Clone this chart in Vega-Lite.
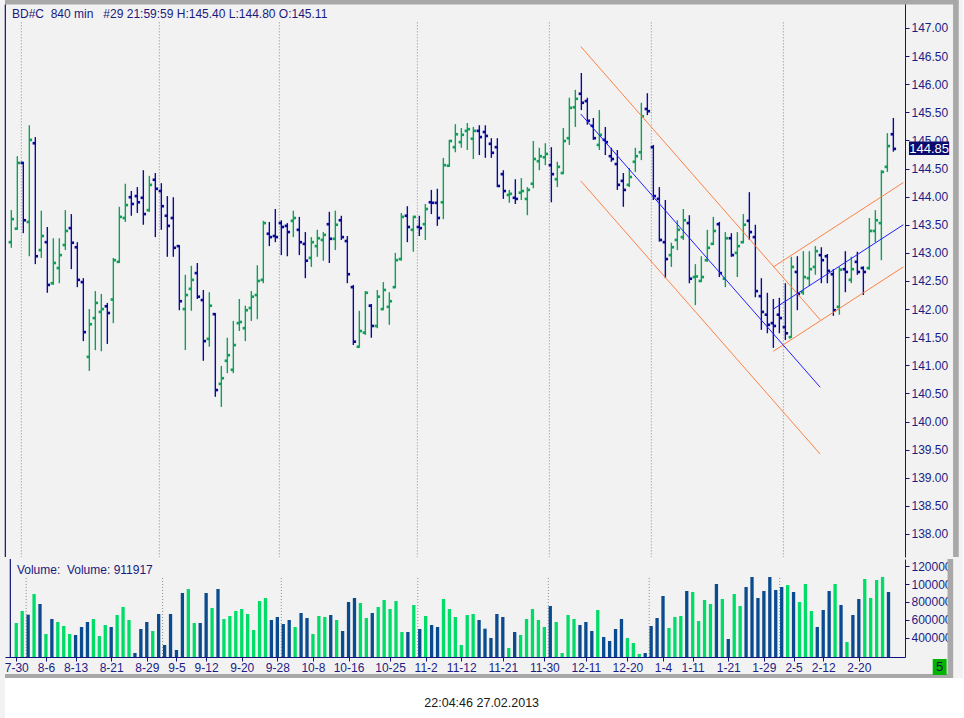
{
  "$schema": "https://vega.github.io/schema/vega-lite/v6.json",
  "padding": {"left": 4, "top": 0, "right": 0, "bottom": 0},
  "background": "#F2F2F2",
  "datasets": {
    "bars": [
      {"i":0,"o":143.19,"h":143.76,"l":143.09,"c":143.60,"v":564600},
      {"i":1,"o":143.43,"h":144.72,"l":143.41,"c":144.60,"v":699000},
      {"i":2,"o":144.60,"h":144.62,"l":143.35,"c":143.58,"v":657900},
      {"i":3,"o":143.55,"h":145.27,"l":142.94,"c":145.01,"v":889300},
      {"i":4,"o":144.95,"h":145.06,"l":142.80,"c":142.94,"v":777400},
      {"i":5,"o":143.05,"h":143.75,"l":142.91,"c":143.30,"v":441400},
      {"i":6,"o":143.19,"h":143.46,"l":142.29,"c":142.43,"v":609400},
      {"i":7,"o":142.46,"h":143.26,"l":142.43,"c":142.82,"v":575800},
      {"i":8,"o":142.73,"h":143.26,"l":142.46,"c":142.96,"v":531000},
      {"i":9,"o":143.14,"h":143.76,"l":143.05,"c":143.39,"v":441400},
      {"i":10,"o":143.44,"h":143.69,"l":142.71,"c":143.18,"v":430200},
      {"i":11,"o":143.10,"h":143.19,"l":142.39,"c":142.52,"v":519800},
      {"i":12,"o":142.48,"h":142.55,"l":141.43,"c":141.59,"v":575800},
      {"i":13,"o":141.15,"h":142.00,"l":140.90,"c":141.73,"v":609400},
      {"i":14,"o":141.84,"h":142.32,"l":141.27,"c":142.11,"v":419000},
      {"i":15,"o":141.95,"h":142.27,"l":141.25,"c":142.00,"v":542200},
      {"i":16,"o":142.05,"h":142.11,"l":141.38,"c":141.93,"v":519800},
      {"i":17,"o":142.17,"h":142.91,"l":141.75,"c":142.87,"v":654200},
      {"i":18,"o":142.84,"h":143.82,"l":142.82,"c":143.64,"v":743800},
      {"i":19,"o":143.62,"h":144.23,"l":143.55,"c":143.85,"v":598200},
      {"i":20,"o":143.99,"h":144.10,"l":143.66,"c":143.87,"v":228600},
      {"i":21,"o":144.01,"h":144.17,"l":143.71,"c":143.90,"v":497400},
      {"i":22,"o":143.98,"h":144.47,"l":143.50,"c":143.69,"v":575800},
      {"i":23,"o":143.76,"h":144.37,"l":143.73,"c":144.21,"v":475000},
      {"i":24,"o":144.30,"h":144.42,"l":143.28,"c":144.14,"v":665400},
      {"i":25,"o":144.10,"h":144.24,"l":143.41,"c":143.83,"v":318200},
      {"i":26,"o":143.66,"h":144.01,"l":142.93,"c":143.48,"v":665400},
      {"i":27,"o":143.62,"h":143.99,"l":142.93,"c":143.09,"v":262200},
      {"i":28,"o":143.12,"h":143.14,"l":141.98,"c":142.14,"v":900500},
      {"i":29,"o":142.00,"h":142.61,"l":141.27,"c":142.25,"v":945100},
      {"i":30,"o":142.36,"h":142.77,"l":141.97,"c":142.52,"v":564600},
      {"i":31,"o":142.64,"h":142.82,"l":142.18,"c":142.22,"v":564600},
      {"i":32,"o":142.16,"h":142.34,"l":141.08,"c":141.43,"v":900500},
      {"i":33,"o":141.47,"h":142.30,"l":141.33,"c":142.06,"v":732600},
      {"i":34,"o":141.91,"h":141.93,"l":140.44,"c":140.56,"v":945100},
      {"i":35,"o":140.67,"h":140.99,"l":140.26,"c":140.77,"v":609400},
      {"i":36,"o":141.08,"h":141.49,"l":140.86,"c":141.18,"v":642900},
      {"i":37,"o":140.92,"h":141.79,"l":140.86,"c":141.36,"v":699000},
      {"i":38,"o":141.75,"h":142.18,"l":141.61,"c":141.77,"v":721400},
      {"i":39,"o":141.66,"h":142.06,"l":141.43,"c":141.98,"v":665400},
      {"i":40,"o":142.02,"h":142.32,"l":141.79,"c":142.22,"v":486200},
      {"i":41,"o":142.25,"h":142.78,"l":141.82,"c":142.50,"v":811000},
      {"i":42,"o":142.52,"h":143.57,"l":142.46,"c":143.53,"v":844500},
      {"i":43,"o":143.34,"h":143.55,"l":143.12,"c":143.28,"v":598200},
      {"i":44,"o":143.30,"h":143.78,"l":143.19,"c":143.28,"v":631800},
      {"i":45,"o":143.53,"h":143.58,"l":142.96,"c":143.46,"v":553400},
      {"i":46,"o":143.48,"h":143.53,"l":142.94,"c":143.37,"v":598200},
      {"i":47,"o":143.57,"h":143.75,"l":143.28,"c":143.62,"v":519800},
      {"i":48,"o":143.41,"h":143.64,"l":142.96,"c":143.19,"v":676600},
      {"i":49,"o":143.16,"h":143.37,"l":142.55,"c":142.86,"v":620600},
      {"i":50,"o":142.91,"h":143.28,"l":142.75,"c":143.19,"v":441400},
      {"i":51,"o":143.12,"h":143.41,"l":142.93,"c":143.26,"v":642900},
      {"i":52,"o":143.23,"h":143.37,"l":142.86,"c":143.32,"v":631800},
      {"i":53,"o":143.51,"h":143.73,"l":142.82,"c":143.25,"v":654200},
      {"i":54,"o":143.25,"h":143.75,"l":143.05,"c":143.50,"v":598200},
      {"i":55,"o":143.58,"h":143.66,"l":143.23,"c":143.28,"v":475000},
      {"i":56,"o":143.21,"h":143.30,"l":142.46,"c":142.62,"v":799800},
      {"i":57,"o":142.39,"h":142.43,"l":141.36,"c":141.42,"v":844500},
      {"i":58,"o":141.33,"h":141.97,"l":141.31,"c":141.61,"v":788600},
      {"i":59,"o":141.58,"h":142.32,"l":141.54,"c":142.29,"v":620600},
      {"i":60,"o":142.06,"h":142.09,"l":141.49,"c":141.70,"v":676600},
      {"i":61,"o":141.70,"h":142.34,"l":141.66,"c":142.22,"v":743800},
      {"i":62,"o":142.00,"h":142.48,"l":141.98,"c":142.34,"v":822200},
      {"i":63,"o":142.04,"h":142.30,"l":141.72,"c":142.14,"v":721400},
      {"i":64,"o":142.39,"h":143.00,"l":142.37,"c":142.87,"v":811000},
      {"i":65,"o":142.89,"h":143.71,"l":142.86,"c":143.64,"v":463800},
      {"i":66,"o":143.66,"h":143.83,"l":143.19,"c":143.46,"v":463800},
      {"i":67,"o":143.41,"h":143.66,"l":143.02,"c":143.64,"v":766200},
      {"i":68,"o":143.46,"h":143.66,"l":143.30,"c":143.44,"v":497400},
      {"i":69,"o":143.51,"h":143.87,"l":143.23,"c":143.78,"v":642900},
      {"i":70,"o":143.90,"h":144.12,"l":143.69,"c":143.89,"v":542200},
      {"i":71,"o":143.89,"h":144.14,"l":143.48,"c":143.62,"v":519800},
      {"i":72,"o":143.90,"h":144.69,"l":143.60,"c":144.56,"v":833400},
      {"i":73,"o":144.55,"h":145.01,"l":144.53,"c":144.99,"v":721400},
      {"i":74,"o":144.88,"h":145.29,"l":144.79,"c":145.11,"v":631800},
      {"i":75,"o":144.97,"h":145.22,"l":144.87,"c":145.10,"v":318200},
      {"i":76,"o":145.17,"h":145.31,"l":144.83,"c":145.20,"v":654200},
      {"i":77,"o":145.03,"h":145.24,"l":144.67,"c":145.17,"v":665400},
      {"i":78,"o":145.17,"h":145.27,"l":144.74,"c":145.06,"v":598200},
      {"i":79,"o":145.15,"h":145.27,"l":144.69,"c":145.08,"v":501100},
      {"i":80,"o":144.94,"h":145.04,"l":144.69,"c":144.78,"v":396600},
      {"i":81,"o":144.88,"h":145.04,"l":144.17,"c":144.19,"v":665400},
      {"i":82,"o":144.40,"h":144.47,"l":143.96,"c":144.10,"v":631800},
      {"i":83,"o":144.03,"h":144.12,"l":143.89,"c":144.05,"v":284600},
      {"i":84,"o":143.98,"h":144.31,"l":143.87,"c":143.96,"v":463800},
      {"i":85,"o":144.07,"h":144.33,"l":143.94,"c":144.10,"v":430200},
      {"i":86,"o":143.96,"h":144.17,"l":143.67,"c":144.12,"v":609400},
      {"i":87,"o":144.23,"h":144.99,"l":144.15,"c":144.67,"v":721400},
      {"i":88,"o":144.63,"h":144.87,"l":144.47,"c":144.72,"v":598200},
      {"i":89,"o":144.70,"h":144.95,"l":144.56,"c":144.76,"v":519800},
      {"i":90,"o":144.56,"h":144.88,"l":143.90,"c":144.40,"v":755000},
      {"i":91,"o":144.31,"h":144.62,"l":144.17,"c":144.53,"v":575800},
      {"i":92,"o":144.42,"h":145.22,"l":144.40,"c":144.99,"v":228600},
      {"i":93,"o":145.04,"h":145.76,"l":144.92,"c":145.58,"v":654200},
      {"i":94,"o":145.59,"h":145.90,"l":145.24,"c":145.74,"v":609400},
      {"i":95,"o":145.83,"h":146.20,"l":145.54,"c":145.67,"v":542200},
      {"i":96,"o":145.70,"h":145.76,"l":145.28,"c":145.35,"v":575800},
      {"i":97,"o":145.26,"h":145.40,"l":145.01,"c":145.04,"v":475000},
      {"i":98,"o":144.92,"h":145.54,"l":144.83,"c":145.10,"v":710200},
      {"i":99,"o":145.01,"h":145.24,"l":144.74,"c":144.97,"v":407800},
      {"i":100,"o":144.72,"h":144.87,"l":144.62,"c":144.67,"v":363000},
      {"i":101,"o":144.58,"h":144.83,"l":144.12,"c":144.21,"v":497400},
      {"i":102,"o":144.28,"h":144.42,"l":143.82,"c":144.12,"v":609400},
      {"i":103,"o":144.21,"h":144.51,"l":144.17,"c":144.35,"v":396600},
      {"i":104,"o":144.62,"h":144.87,"l":144.44,"c":144.72,"v":340600},
      {"i":105,"o":144.79,"h":145.67,"l":144.65,"c":145.43,"v":217400},
      {"i":106,"o":145.56,"h":145.84,"l":145.45,"c":145.52,"v":228600},
      {"i":107,"o":144.88,"h":144.92,"l":143.94,"c":144.01,"v":531000},
      {"i":108,"o":143.96,"h":144.17,"l":143.20,"c":143.23,"v":620600},
      {"i":109,"o":143.19,"h":143.94,"l":142.55,"c":142.89,"v":866900},
      {"i":110,"o":142.96,"h":143.18,"l":142.75,"c":143.10,"v":508600},
      {"i":111,"o":143.23,"h":143.58,"l":143.05,"c":143.41,"v":631800},
      {"i":112,"o":143.28,"h":143.78,"l":143.23,"c":143.58,"v":642900},
      {"i":113,"o":143.53,"h":143.67,"l":142.46,"c":142.54,"v":922900},
      {"i":114,"o":142.57,"h":142.80,"l":142.07,"c":142.58,"v":911700},
      {"i":115,"o":142.50,"h":142.94,"l":142.48,"c":142.57,"v":587000},
      {"i":116,"o":142.87,"h":143.41,"l":142.84,"c":143.09,"v":822100},
      {"i":117,"o":143.16,"h":143.64,"l":143.14,"c":143.39,"v":777300},
      {"i":118,"o":143.51,"h":143.55,"l":142.57,"c":142.64,"v":1001300},
      {"i":119,"o":142.54,"h":143.37,"l":142.39,"c":143.26,"v":833300},
      {"i":120,"o":143.26,"h":143.35,"l":142.93,"c":142.96,"v":385400},
      {"i":121,"o":143.00,"h":143.37,"l":142.57,"c":143.12,"v":889300},
      {"i":122,"o":143.19,"h":143.69,"l":143.17,"c":143.50,"v":755000},
      {"i":123,"o":143.57,"h":144.08,"l":143.23,"c":143.37,"v":967700},
      {"i":124,"o":143.28,"h":143.50,"l":142.21,"c":142.32,"v":1079700},
      {"i":125,"o":142.23,"h":142.55,"l":141.63,"c":141.95,"v":844500},
      {"i":126,"o":141.90,"h":142.29,"l":141.57,"c":141.72,"v":922900},
      {"i":127,"o":141.75,"h":142.18,"l":141.31,"c":141.70,"v":1079700},
      {"i":128,"o":141.90,"h":142.20,"l":141.57,"c":141.84,"v":934100},
      {"i":129,"o":141.68,"h":142.46,"l":141.45,"c":141.57,"v":967700},
      {"i":130,"o":141.50,"h":142.93,"l":141.49,"c":142.75,"v":990100},
      {"i":131,"o":142.66,"h":142.94,"l":141.98,"c":142.27,"v":911700},
      {"i":132,"o":142.30,"h":143.03,"l":142.25,"c":142.57,"v":799800},
      {"i":133,"o":142.55,"h":143.03,"l":142.41,"c":142.71,"v":1001300},
      {"i":134,"o":142.75,"h":143.12,"l":142.61,"c":143.03,"v":699000},
      {"i":135,"o":142.96,"h":143.10,"l":142.46,"c":142.87,"v":519800},
      {"i":136,"o":142.94,"h":142.98,"l":142.46,"c":142.68,"v":710200},
      {"i":137,"o":142.62,"h":142.71,"l":141.88,"c":141.98,"v":922900},
      {"i":138,"o":142.04,"h":142.75,"l":141.90,"c":142.70,"v":1001300},
      {"i":139,"o":142.71,"h":143.03,"l":142.30,"c":142.66,"v":766100},
      {"i":140,"o":142.52,"h":142.93,"l":142.46,"c":142.71,"v":351800},
      {"i":141,"o":142.84,"h":143.02,"l":142.61,"c":142.66,"v":654200},
      {"i":142,"o":142.73,"h":142.76,"l":142.25,"c":142.66,"v":833300},
      {"i":143,"o":142.73,"h":143.62,"l":142.70,"c":143.39,"v":1057300},
      {"i":144,"o":143.39,"h":143.76,"l":143.19,"c":143.58,"v":844500},
      {"i":145,"o":143.53,"h":144.47,"l":142.87,"c":144.44,"v":1046100},
      {"i":146,"o":144.53,"h":145.13,"l":144.44,"c":144.90,"v":1079700},
      {"i":147,"o":145.11,"h":145.40,"l":144.80,"c":144.85,"v":911917}
    ],
    "channels": [
      {"ch":"down","part":"upper","i":94.9,"p":146.67},
      {"ch":"down","part":"upper","i":134.8,"p":141.81},
      {"ch":"down","part":"mid","i":94.9,"p":145.47},
      {"ch":"down","part":"mid","i":134.8,"p":140.61},
      {"ch":"down","part":"lower","i":94.9,"p":144.28},
      {"ch":"down","part":"lower","i":134.8,"p":139.42},
      {"ch":"up","part":"upper","i":127.0,"p":142.75},
      {"ch":"up","part":"upper","i":148.66,"p":144.25},
      {"ch":"up","part":"mid","i":127.0,"p":142.0},
      {"ch":"up","part":"mid","i":148.66,"p":143.5},
      {"ch":"up","part":"lower","i":127.0,"p":141.25},
      {"ch":"up","part":"lower","i":148.66,"p":142.75}
    ],
    "months": [
      {"m":1.67},{"m":24.67},{"m":44.67},{"m":67.67},{"m":89.67},{"m":106.67},{"m":128.67}
    ]
  },
  "config": {
    "view": {"stroke": null},
    "font": "Liberation Sans",
    "axis": {
      "labelFont": "Liberation Sans",
      "labelFontSize": 12,
      "labelColor": "#1C1C85",
      "domainColor": "#12127A",
      "tickColor": "#12127A",
      "tickSize": 4,
      "labelPadding": 2,
      "labelOverlap": false,
      "tickCount": 300,
      "grid": false
    }
  },
  "spacing": 0,
  "vconcat": [
    {
      "width": 900,
      "height": 557,
      "data": {"name": "bars"},
      "layer": [
        {
          "data": {"values": [{"k": 1}]},
          "mark": {"type": "rect", "color": "#A8A8A8"},
          "encoding": {
            "x": {"datum": -1.055, "type": "quantitative", "scale": {"domain": [-1.055, 148.94], "nice": false, "zero": false}, "axis": null},
            "x2": {"datum": 157.8},
            "y": {"datum": 147.498, "type": "quantitative", "scale": {"domain": [137.59, 147.498], "nice": false, "zero": false}, "axis": {"orient": "right", "values": [138, 138.5, 139, 139.5, 140, 140.5, 141, 141.5, 142, 142.5, 143, 143.5, 144, 144.5, 145, 145.5, 146, 146.5, 147], "tickCount": 300, "format": ".2f", "labelOverlap": false, "title": null}},
            "y2": {"datum": 147.418}
          }
        },
        {
          "data": {"values": [{"k": 1}]},
          "mark": {"type": "rect", "color": "#A8A8A8"},
          "encoding": {
            "x": {"datum": 156.95, "type": "quantitative"},
            "x2": {"datum": 157.9},
            "y": {"datum": 147.498, "type": "quantitative"},
            "y2": {"datum": 137.59}
          }
        },
        {
          "data": {"name": "months"},
          "mark": {"type": "rule", "color": "#8A8A8A", "strokeDash": [1, 2], "strokeWidth": 1},
          "encoding": {
            "x": {"field": "m", "type": "quantitative"},
            "y": {"datum": 147.1, "type": "quantitative"},
            "y2": {"datum": 137.59}
          }
        },
        {
          "data": {"values": [{"k": 1}]},
          "mark": {"type": "rule", "color": "#12127A", "strokeWidth": 1.2},
          "encoding": {
            "x": {"datum": -1.0, "type": "quantitative"},
            "y": {"datum": 147.418, "type": "quantitative"},
            "y2": {"datum": 137.59}
          }
        },
        {
          "mark": {"type": "rule", "strokeWidth": 1.4},
          "encoding": {
            "x": {"field": "i", "type": "quantitative"},
            "y": {"field": "l", "type": "quantitative"},
            "y2": {"field": "h"},
            "color": {"condition": {"test": "datum.c >= datum.o", "value": "#0E9F58"}, "value": "#0B0B99"}
          }
        },
        {
          "mark": {"type": "square", "size": 7, "xOffset": -1.4, "opacity": 1, "filled": true},
          "encoding": {
            "x": {"field": "i", "type": "quantitative"},
            "y": {"field": "o", "type": "quantitative"},
            "color": {"condition": {"test": "datum.c >= datum.o", "value": "#0E9F58"}, "value": "#0B0B99"}
          }
        },
        {
          "mark": {"type": "square", "size": 7, "xOffset": 1.4, "opacity": 1, "filled": true},
          "encoding": {
            "x": {"field": "i", "type": "quantitative"},
            "y": {"field": "c", "type": "quantitative"},
            "color": {"condition": {"test": "datum.c >= datum.o", "value": "#0E9F58"}, "value": "#0B0B99"}
          }
        },
        {
          "data": {"name": "channels"},
          "mark": {"type": "line", "strokeWidth": 1},
          "encoding": {
            "x": {"field": "i", "type": "quantitative"},
            "y": {"field": "p", "type": "quantitative"},
            "color": {"field": "part", "type": "nominal", "scale": {"domain": ["upper", "mid", "lower"], "range": ["#FF8040", "#1E1EFF", "#FF8040"]}, "legend": null},
            "detail": {"field": "ch"}
          }
        },
        {
          "data": {"values": [{"k": 1}]},
          "mark": {"type": "text", "align": "left", "baseline": "middle", "fontSize": 12, "color": "#1A1A7E"},
          "encoding": {
            "x": {"datum": 0.11, "type": "quantitative"},
            "y": {"datum": 147.249, "type": "quantitative"},
            "text": {"value": "BD#C\u00a0 840 min\u00a0\u00a0 #29 21:59:59 H:145.40 L:144.80 O:145.11"}
          }
        },
        {
          "data": {"values": [{"k": 1}]},
          "mark": {"type": "rect", "color": "#0A0A6E"},
          "encoding": {
            "x": {"datum": 149.6, "type": "quantitative"},
            "x2": {"datum": 156.3},
            "y": {"datum": 144.98, "type": "quantitative"},
            "y2": {"datum": 144.74}
          }
        },
        {
          "transform": [{"filter": "datum.i == 147"}],
          "mark": {"type": "text", "align": "center", "baseline": "middle", "fontSize": 13, "color": "white"},
          "encoding": {
            "x": {"datum": 152.95, "type": "quantitative"},
            "y": {"field": "c", "type": "quantitative"},
            "text": {"field": "c", "type": "quantitative", "format": ".2f"}
          }
        }
      ]
    },
    {
      "width": 900,
      "height": 98,
      "data": {"name": "bars"},
      "layer": [
        {
          "data": {"values": [{"k": 1}]},
          "mark": {"type": "rect", "color": "#A8A8A8"},
          "encoding": {
            "x": {"datum": 156.95, "type": "quantitative", "scale": {"domain": [-1.055, 148.94], "nice": false, "zero": false}, "axis": {"values": [0, 5, 10, 16, 22, 27, 32, 38, 44, 50, 56, 63, 69, 75, 82, 89, 96, 103, 109, 114, 120, 126, 131, 136, 142], "tickCount": 300, "labelExpr": "['7-30','8-6','8-13','8-21','8-29','9-5','9-12','9-20','9-28','10-8','10-16','10-25','11-2','11-12','11-21','11-30','12-11','12-20','1-4','1-11','1-21','1-29','2-5','2-12','2-20'][indexof([0,5,10,16,22,27,32,38,44,50,56,63,69,75,82,89,96,103,109,114,120,126,131,136,142], datum.value)]", "labelOverlap": false, "labelPadding": 1, "title": null}},
            "x2": {"datum": 157.9},
            "y": {"datum": 1281300, "type": "quantitative", "scale": {"domain": [183900, 1281300], "nice": false, "zero": false}, "axis": {"orient": "right", "values": [400000, 600000, 800000, 1000000, 1200000], "tickCount": 300, "labelExpr": "slice(format(datum.value, 'd'), 0, 6)", "labelOverlap": false, "title": null}},
            "y2": {"datum": -6470}
          }
        },
        {
          "data": {"values": [{"k": 1}]},
          "mark": {"type": "rect", "color": "#A8A8A8"},
          "encoding": {
            "x": {"datum": -1.9, "type": "quantitative"},
            "x2": {"datum": 157.9},
            "y": {"datum": -6470, "type": "quantitative"},
            "y2": {"datum": -51260}
          }
        },
        {
          "data": {"values": [{"k": 1}]},
          "mark": {"type": "rect", "color": "white"},
          "encoding": {
            "x": {"datum": -1.9, "type": "quantitative"},
            "x2": {"datum": 159.5},
            "y": {"datum": -51260, "type": "quantitative"},
            "y2": {"datum": -521500}
          }
        },
        {
          "data": {"values": [{"k": 1}]},
          "mark": {"type": "text", "align": "center", "baseline": "middle", "fontSize": 12.5, "color": "#1A1A1A"},
          "encoding": {
            "x": {"datum": 78.44, "type": "quantitative"},
            "y": {"datum": -331200, "type": "quantitative"},
            "text": {"value": "22:04:46 27.02.2013"}
          }
        },
        {
          "data": {"name": "months"},
          "mark": {"type": "rule", "color": "#8A8A8A", "strokeDash": [1, 2], "strokeWidth": 1},
          "encoding": {
            "x": {"field": "m", "type": "quantitative"},
            "y": {"datum": 1069000, "type": "quantitative"},
            "y2": {"datum": 183900}
          }
        },
        {
          "data": {"values": [{"k": 1}]},
          "mark": {"type": "rule", "color": "#12127A", "strokeWidth": 1.2},
          "encoding": {
            "x": {"datum": -1.0, "type": "quantitative"},
            "y": {"datum": 1281300, "type": "quantitative"},
            "y2": {"datum": 183900}
          }
        },
        {
          "mark": {"type": "bar", "width": 3.3},
          "encoding": {
            "x": {"field": "i", "type": "quantitative"},
            "y": {"field": "v", "type": "quantitative"},
            "y2": {"datum": 183900},
            "color": {"condition": {"test": "datum.c >= datum.o", "value": "#00DC68"}, "value": "#0A4A8E"}
          }
        },
        {
          "data": {"values": [{"k": 1}]},
          "mark": {"type": "text", "align": "left", "baseline": "middle", "fontSize": 12, "color": "#1A1A7E"},
          "encoding": {
            "x": {"datum": 0.11, "type": "quantitative"},
            "y": {"datum": 1158100, "type": "quantitative"},
            "text": {"value": "Volume:\u00a0 Volume: 911917"}
          }
        },
        {
          "data": {"values": [{"k": 1}]},
          "mark": {"type": "rect", "color": "#00B400"},
          "encoding": {
            "x": {"datum": 154.45, "type": "quantitative"},
            "x2": {"datum": 156.8},
            "y": {"datum": 161500, "type": "quantitative"},
            "y2": {"datum": -17700}
          }
        },
        {
          "data": {"values": [{"k": 1}]},
          "mark": {"type": "text", "align": "center", "baseline": "middle", "fontSize": 13, "color": "#10104A"},
          "encoding": {
            "x": {"datum": 155.63, "type": "quantitative"},
            "y": {"datum": 71900, "type": "quantitative"},
            "text": {"value": "5"}
          }
        }
      ]
    }
  ]
}
